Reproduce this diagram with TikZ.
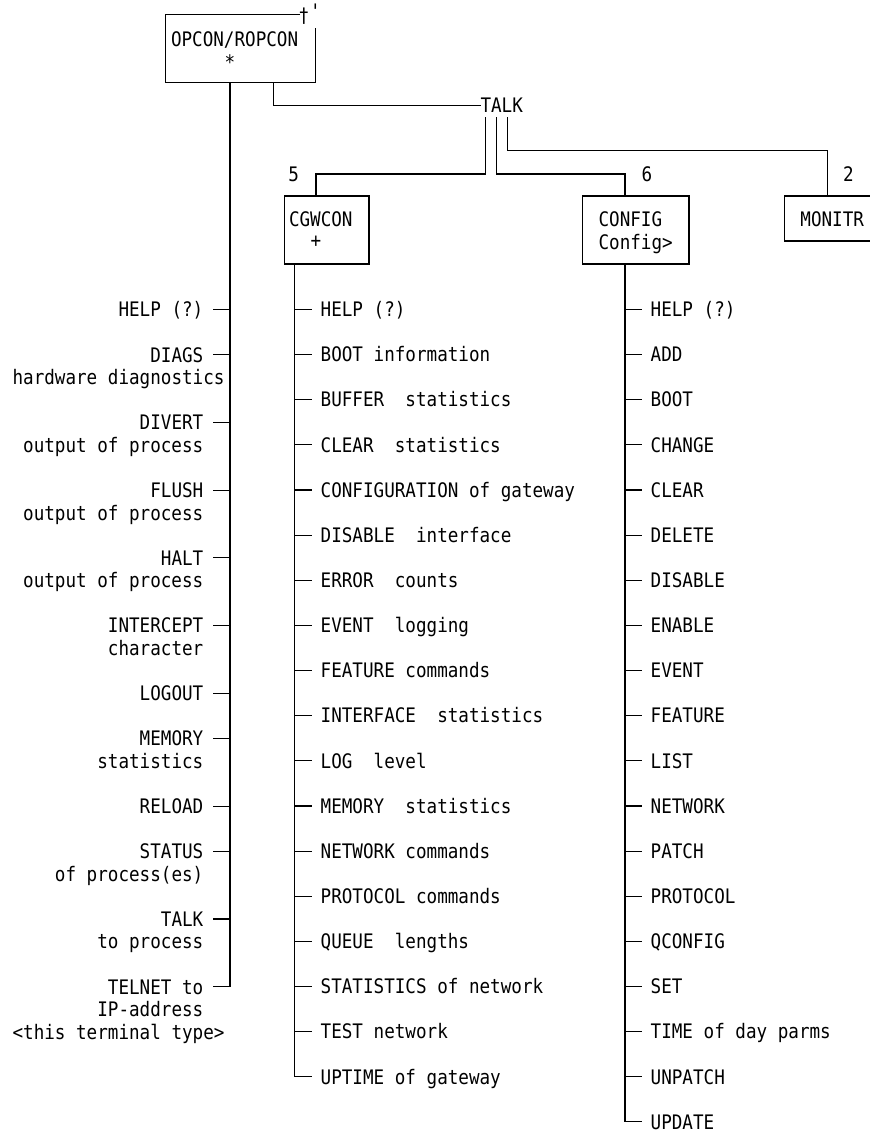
\documentclass[tikz,border=0pt]{standalone}
\usepackage{fontspec}
\setmonofont[FakeStretch=0.88]{DejaVu Sans Mono}
\newcommand\ry[1]{16.2+22.57*#1}
\begin{document}
\begin{tikzpicture}[x=1pt,y=-1pt,
  txt/.style={inner sep=0pt, outer sep=0pt, font=\fontsize{20}{22.57}\ttfamily, text height=14.6pt, text depth=0pt},
  item/.style={txt, anchor=west},
  ritem/.style={txt, anchor=east},
  glyph/.style={inner sep=0pt, outer sep=0pt, font=\fontsize{20}{22.57}\ttfamily, anchor=center},
  wire/.style={line width=1.1pt, black},
  box/.style={draw, line width=1.1pt, inner sep=0pt, outer sep=0pt, anchor=north west}]
\useasboundingbox (0,0) rectangle (870,1133);

% ---------- OPCON/ROPCON box (broken top-right corner) ----------
\coordinate (opA) at (300,14.3);
\coordinate (opB) at (165.7,14.3);
\coordinate (opC) at (165.7,82.3);
\coordinate (opD) at (315.7,82.3);
\coordinate (opE) at (315.7,28);
\draw[wire] (opA) -- (opB) -- (opC) -- (opD) -- (opE);
\node[glyph] (dag) at (304,15.8) {†};
\node[glyph] (apo) at (315.3,11.5) {'};
\node[item] (opname) at (171,38.7) {OPCON/ROPCON};
\node[glyph] (opstar) at (230,62) {*};
\coordinate (optrunk) at (230,82.3);
\coordinate (optalk) at (273.3,82.3);

% ---------- TALK ----------
\node[item] (talk) at (480.5,105.5) {TALK};
\draw[wire] (optalk) |- (talk.west);
\coordinate (t1) at ([xshift=5pt,yshift=-4.4pt]talk.south west);
\coordinate (t2) at ([xshift=15.8pt,yshift=-4.4pt]talk.south west);
\coordinate (t3) at ([xshift=26.6pt,yshift=-4.4pt]talk.south west);

% ---------- sub boxes ----------
\node[box, minimum width=84.8pt, minimum height=68pt] (cgbox) at (284.2,196) {};
\node[item] (cgname) at (289,219) {CGWCON};
\node[glyph] (cgplus) at (316,241.7) {+};
\node[box, minimum width=106.3pt, minimum height=68pt] (cfbox) at (582.7,196) {};
\node[item] (cfname) at (598.6,219) {CONFIG};
\node[item] (cfprompt) at (598.6,241.7) {Config>};
\node[box, minimum width=110pt, minimum height=45pt] (mnbox) at (784.5,196) {};
\node[item] (mnname) at (800.4,219) {MONITR};

\node[glyph] (n5) at (293.7,174) {5};
\node[glyph] (n6) at (647,174) {6};
\node[glyph] (n2) at (848.3,174) {2};

\draw[wire] (t1) -- ++(0,56.8) -| ([xshift=31.8pt]cgbox.north west);
\draw[wire] (t2) -- ++(0,56.8) -| ([xshift=42.3pt]cfbox.north west);
\draw[wire] (t3) -- ++(0,33) -| ([xshift=43.2pt]mnbox.north west);

% ---------- CGWCON list ----------
\coordinate (cgx) at ([xshift=10.3pt]cgbox.south west);
\foreach \t [count=\i from 0] in {{HELP (?)},{BOOT information},{BUFFER~~statistics},{CLEAR~~statistics},{CONFIGURATION of gateway},{DISABLE~~interface},{ERROR~~counts},{EVENT~~logging},{FEATURE commands},{INTERFACE~~statistics},{LOG~~level},{MEMORY~~statistics},{NETWORK commands},{PROTOCOL commands},{QUEUE~~lengths},{STATISTICS of network},{TEST network},{UPTIME of gateway}}{
  \node[item] (cg\i) at (320.7,{309.4+45.14*\i}) {\t};
  \draw[wire] ([xshift=-9.2pt]cg\i.west) -- (cg\i.west -| cgx);
}
\draw[wire] (cgx) |- ([xshift=-9.2pt]cg17.west);

% ---------- CONFIG list ----------
\coordinate (cfx) at ([xshift=42.3pt]cfbox.south west);
\foreach \t [count=\i from 0] in {{HELP (?)},ADD,BOOT,CHANGE,CLEAR,DELETE,DISABLE,ENABLE,EVENT,FEATURE,LIST,NETWORK,PATCH,PROTOCOL,QCONFIG,SET,{TIME of day parms},UNPATCH,UPDATE}{
  \node[item] (cf\i) at (650.7,{309.4+45.14*\i}) {\t};
  \draw[wire] ([xshift=-9.2pt]cf\i.west) -- (cf\i.west -| cfx);
}
\draw[wire] (cfx) |- ([xshift=-9.2pt]cf18.west);

% ---------- OPCON list (left) ----------
\node[ritem] (lHELP) at (203.3,{\ry{13}}) {HELP (?)};
\node[ritem] (lDIAGS) at (203.3,{\ry{15}}) {DIAGS};
\node[ritem] (lDIAGSb) at (224.5,{\ry{16}}) {hardware diagnostics};
\node[ritem] (lDIVERT) at (203.3,{\ry{18}}) {DIVERT};
\node[ritem] (lDIVERTb) at (203.3,{\ry{19}}) {output of process};
\node[ritem] (lFLUSH) at (203.3,{\ry{21}}) {FLUSH};
\node[ritem] (lFLUSHb) at (203.3,{\ry{22}}) {output of process};
\node[ritem] (lHALT) at (203.3,{\ry{24}}) {HALT};
\node[ritem] (lHALTb) at (203.3,{\ry{25}}) {output of process};
\node[ritem] (lINTER) at (203.3,{\ry{27}}) {INTERCEPT};
\node[ritem] (lINTERb) at (203.3,{\ry{28}}) {character};
\node[ritem] (lLOGOUT) at (203.3,{\ry{30}}) {LOGOUT};
\node[ritem] (lMEM) at (203.3,{\ry{32}}) {MEMORY};
\node[ritem] (lMEMb) at (203.3,{\ry{33}}) {statistics};
\node[ritem] (lRELOAD) at (203.3,{\ry{35}}) {RELOAD};
\node[ritem] (lSTATUS) at (203.3,{\ry{37}}) {STATUS};
\node[ritem] (lSTATUSb) at (203.3,{\ry{38}}) {of process(es)};
\node[ritem] (lTALK) at (203.3,{\ry{40}}) {TALK};
\node[ritem] (lTALKb) at (203.3,{\ry{41}}) {to process};
\node[ritem] (lTELNET) at (203.3,{\ry{43}}) {TELNET to};
\node[ritem] (lTELNETb) at (203.3,{\ry{44}}) {IP-address};
\node[ritem] (lTELNETc) at (224.5,{\ry{45}}) {<this terminal type>};

\foreach \n in {lHELP,lDIAGS,lDIVERT,lFLUSH,lHALT,lINTER,lLOGOUT,lMEM,lRELOAD,lSTATUS,lTALK}{
  \draw[wire] ([xshift=9.7pt]\n.east) -- (\n.east -| optrunk);
}
\draw[wire] (optrunk) |- ([xshift=9.7pt]lTELNET.east);
\end{tikzpicture}
\end{document}
